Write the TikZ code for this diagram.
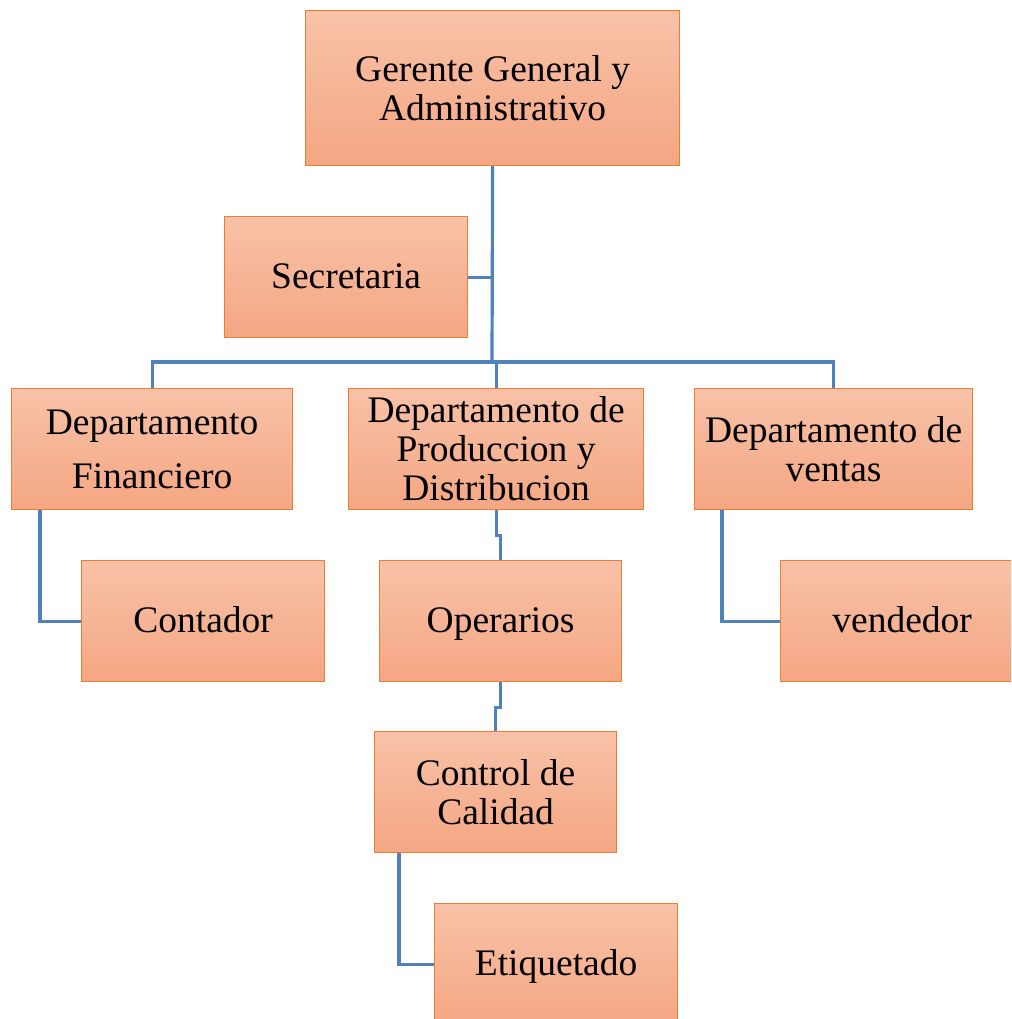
\documentclass[tikz,border=0pt]{standalone}
\usepackage{fontspec}
\setmainfont{Liberation Serif}
\definecolor{boxline}{HTML}{ED7D31}
\definecolor{boxtop}{HTML}{F8C2A8}
\definecolor{boxbot}{HTML}{F4A683}
\definecolor{conncol}{HTML}{4F81BD}
\begin{document}
\begin{tikzpicture}[x=1pt,y=-1pt,
  orgbox/.style={draw=boxline, line width=1.2pt, top color=boxtop, bottom color=boxbot,
    anchor=north west, inner sep=0pt, align=center,
    font=\fontsize{37.5}{39}\selectfont},
  onebox/.style={orgbox, text depth=3pt},
  conn/.style={draw=conncol, line width=3.2pt}]
\useasboundingbox (0,0) rectangle (1011,1019);
\clip (0,0) rectangle (1011,1019);
\fill[white] (0,0) rectangle (1011,1019);

% boxes: top-left corner, width, height
\node[orgbox, minimum width=374pt, minimum height=155pt] (ger) at (305,10) {Gerente General y\\Administrativo};
\node[onebox, minimum width=243pt, minimum height=121pt] (sec) at (224,216) {Secretaria};
\node[orgbox, minimum width=281pt, minimum height=121pt,
      font=\fontsize{37.5}{54}\selectfont] (fin) at (11,388) {Departamento\\Financiero};
\node[orgbox, minimum width=295pt, minimum height=121pt] (prod) at (348,388) {Departamento de\\Produccion y\\Distribucion};
\node[orgbox, minimum width=278pt, minimum height=121pt] (ven) at (694,388) {Departamento de\\ventas};
\node[onebox, minimum width=243pt, minimum height=121pt] (cont) at (81,560) {Contador};
\node[onebox, minimum width=242pt, minimum height=121pt] (oper) at (379,560) {Operarios};
\node[onebox, minimum width=243pt, minimum height=121pt] (vend) at (780,560) {vendedor};
\node[orgbox, minimum width=242pt, minimum height=121pt] (ctrl) at (374,731) {Control de\\Calidad};
\node[onebox, minimum width=243pt, minimum height=121pt] (etiq) at (434,903) {Etiquetado};

% connectors
\coordinate (bus) at (492,362);
\draw[conn] (ger.south) -- (bus);
\draw[conn] (sec.east) -- (sec.east -| ger.south);
\draw[conn] (fin.north) -- ++(0,-26) -| (ven.north);
\draw[conn] (prod.north) -- (prod.north |- bus);
\draw[conn] ([xshift=29pt]fin.south west) |- (cont.west);
\draw[conn] ([xshift=28pt]ven.south west) |- (vend.west);
\draw[conn] (prod.south) -- ++(0,25) -| (oper.north);
\draw[conn] (oper.south) -- ++(0,25) -| (ctrl.north);
\draw[conn] ([xshift=25pt]ctrl.south west) |- (etiq.west);
\end{tikzpicture}
\end{document}
